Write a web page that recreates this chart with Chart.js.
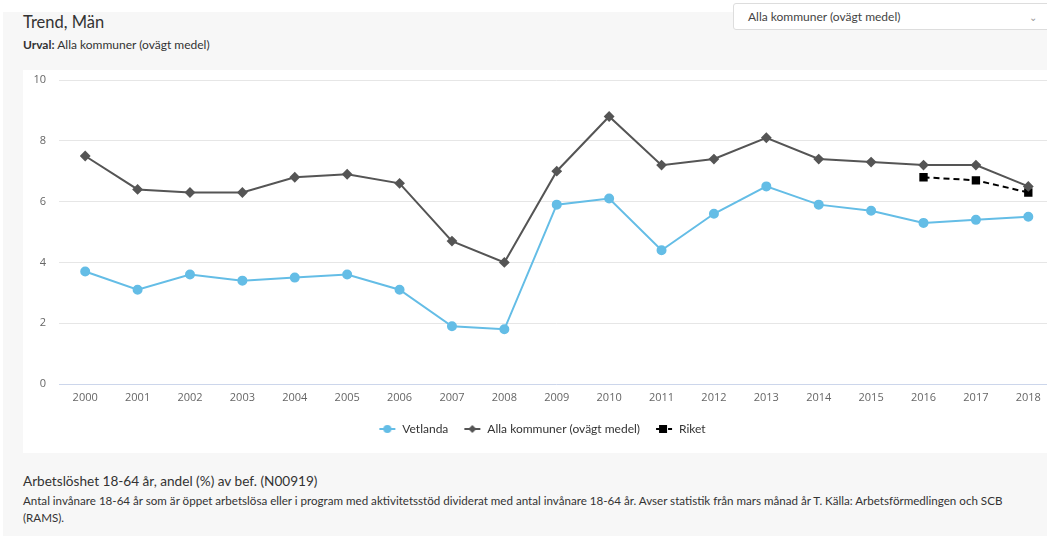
<!DOCTYPE html>
<html lang="sv">
<head>
<meta charset="utf-8">
<title>Trend, Män</title>
<script src="https://cdn.jsdelivr.net/npm/chart.js@4"></script>
<style>
  html, body { margin: 0; padding: 0; background: #fff; overflow: hidden; width: 1047px; height: 536px; }
  body { position: relative; font-family: Lato, "Open Sans", sans-serif; color: #333; }
  .panel { position: absolute; left: 3px; top: 12px; width: 1044px; height: 524px; background: #f7f7f7; }
  .title { position: absolute; left: 23px; top: 12px; font-size: 16.5px; color: #333; }
  .urval { position: absolute; left: 23px; top: 37px; font-size: 12px; color: #333; }
  .urval b { font-weight: bold; }
  .select { position: absolute; left: 733px; top: 3px; width: 330px; height: 27px; background: #fff;
            border: 1px solid #ddd; border-radius: 3px; box-sizing: border-box; font-size: 12px; color: #444;
            line-height: 26px; padding-left: 14px; }
  .select .chev { position: absolute; left: 295px; top: 0; color: #999; font-size: 10px; }
  .chartbox { position: absolute; left: 23px; top: 70px; width: 1038px; height: 383px; background: #fff; }
  .desc { position: absolute; left: 23px; top: 473px; width: 1015px; }
  .desc h4 { margin: 0 0 3px 0; font-weight: normal; font-size: 13.6px; color: #333; }
  .desc p { margin: 0; font-size: 11.6px; line-height: 17px; color: #333; }
</style>
</head>
<body>
<div class="panel"></div>
<div class="title">Trend, Män</div>
<div class="urval"><b>Urval:</b> Alla kommuner (ovägt medel)</div>
<div class="select">Alla kommuner (ovägt medel)<span class="chev">&#8964;</span></div>
<div class="chartbox"><canvas id="trend"></canvas></div>
<div class="desc">
  <h4>Arbetslöshet 18-64 år, andel (%) av bef. (N00919)</h4>
  <p>Antal invånare 18-64 år som är öppet arbetslösa eller i program med aktivitetsstöd dividerat med antal invånare 18-64 år. Avser statistik från mars månad år T. Källa: Arbetsförmedlingen och SCB (RAMS).</p>
</div>
<script>
// data
const years = ['2000','2001','2002','2003','2004','2005','2006','2007','2008','2009',
               '2010','2011','2012','2013','2014','2015','2016','2017','2018'];
const vetlanda = [3.7, 3.1, 3.6, 3.4, 3.5, 3.6, 3.1, 1.9, 1.8, 5.9,
                  6.1, 4.4, 5.6, 6.5, 5.9, 5.7, 5.3, 5.4, 5.5];
const allaKommuner = [7.5, 6.4, 6.3, 6.3, 6.8, 6.9, 6.6, 4.7, 4.0, 7.0,
                      8.8, 7.2, 7.4, 8.1, 7.4, 7.3, 7.2, 7.2, 6.5];
const riket = [null, null, null, null, null, null, null, null, null, null,
               null, null, null, null, null, null, 6.8, 6.7, 6.3];
const yTicks = [0, 2, 4, 6, 8, 10];

const blue = '#64bde6';
const grey = '#555555';
const black = '#000000';

// small line+marker icons for the legend
function legendIcon(color, shape, dashed) {
  const c = document.createElement('canvas');
  c.width = 18; c.height = 12;
  const g = c.getContext('2d');
  g.strokeStyle = color; g.fillStyle = color; g.lineWidth = 2;
  if (dashed) g.setLineDash([4, 2]);
  g.beginPath(); g.moveTo(1, 6); g.lineTo(17, 6); g.stroke();
  g.setLineDash([]);
  g.beginPath();
  if (shape === 'circle') g.arc(9, 6, 4, 0, Math.PI * 2);
  else if (shape === 'diamond') { g.moveTo(9, 2); g.lineTo(13, 6); g.lineTo(9, 10); g.lineTo(5, 6); g.closePath(); }
  else g.rect(4, 2, 8, 8);
  g.fill();
  return c;
}
const icons = [legendIcon(blue, 'circle'), legendIcon(grey, 'diamond'), legendIcon(black, 'square', true)];

const ctx = document.getElementById('trend').getContext('2d');
const trendChart = new Chart(ctx, {
  type: 'line',
  data: {
    labels: years,
    datasets: [{
      label: 'Vetlanda',
      data: vetlanda,
      borderColor: blue,
      backgroundColor: blue,
      borderWidth: 2,
      pointStyle: 'circle',
      pointRadius: 4,
      tension: 0
    }, {
      label: 'Alla kommuner (ovägt medel)',
      data: allaKommuner,
      borderColor: grey,
      backgroundColor: grey,
      borderWidth: 2,
      pointStyle: 'rectRot',
      pointRadius: 4,
      tension: 0
    }, {
      label: 'Riket',
      data: riket,
      borderColor: black,
      backgroundColor: black,
      borderWidth: 2,
      borderDash: [6, 4],
      pointStyle: 'rect',
      pointRadius: 4.5,
      tension: 0
    }]
  },
  options: {
    responsive: true,
    maintainAspectRatio: false,
    animation: false,
    layout: { padding: { top: 10, right: 0, bottom: 8, left: 0 } },
    scales: {
      x: {
        offset: true,
        grid: { display: false, drawTicks: false },
        border: { display: false },
        ticks: { color: '#666', font: { family: 'Open Sans', size: 11 }, padding: 7, maxRotation: 0 },
        afterFit(scale) { scale.height = 24; }
      },
      y: {
        min: 0,
        max: 10,
        afterBuildTicks(scale) { scale.ticks = yTicks.map(v => ({ value: v })); },
        grid: {
          color: c => c.tick && c.tick.value === 0 ? '#ccd6eb' : '#e6e6e6',
          drawTicks: true,
          tickLength: 13,
          tickColor: 'rgba(0,0,0,0)'
        },
        border: { display: false },
        ticks: { color: '#666', font: { family: 'Open Sans', size: 11 }, padding: 0 },
        afterFit(scale) { scale.width = 36; }
      }
    },
    plugins: {
      tooltip: { enabled: false },
      legend: {
        position: 'bottom',
        labels: {
          usePointStyle: true,
          pointStyleWidth: 18,
          color: '#333',
          font: { family: 'Lato', size: 12 },
          padding: 15,
          generateLabels(chart) {
            const items = Chart.defaults.plugins.legend.labels.generateLabels(chart);
            items.forEach((it, i) => { it.pointStyle = icons[i]; });
            return items;
          }
        }
      }
    }
  }
});
</script>
</body>
</html>
